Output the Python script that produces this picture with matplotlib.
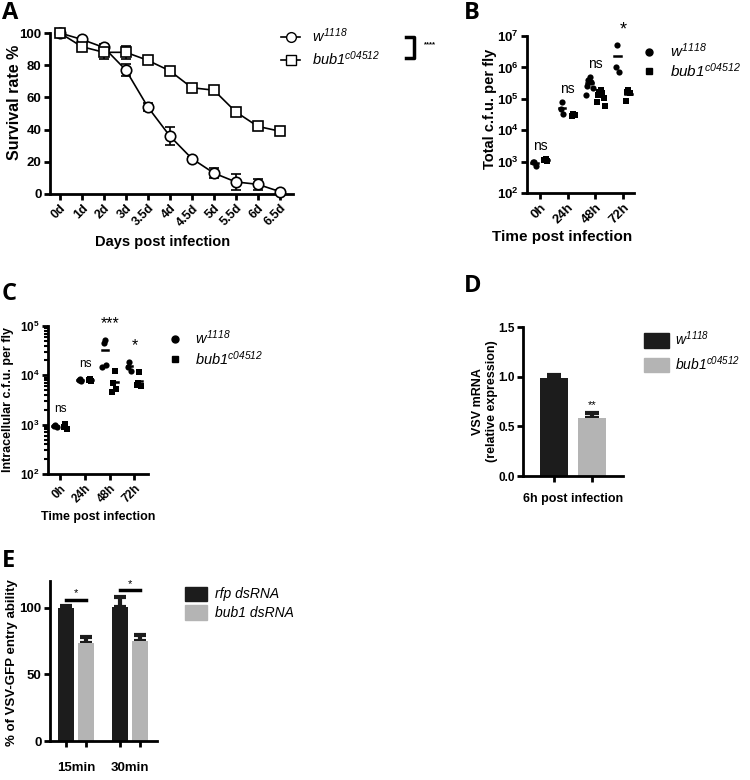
import numpy as np
import matplotlib
matplotlib.use("Agg")
import matplotlib.pyplot as plt
from matplotlib.lines import Line2D
from matplotlib.patches import Patch
from matplotlib.ticker import LogLocator, NullFormatter

plt.rcParams['font.family'] = ['Liberation Sans', 'DejaVu Sans']
plt.rcParams['mathtext.fontset'] = 'custom'
plt.rcParams['mathtext.rm'] = 'Liberation Sans:italic'
plt.rcParams['mathtext.it'] = 'Liberation Sans:italic'
plt.rcParams['mathtext.bf'] = 'Liberation Sans:bold'

# ---- data ----
days = ["0d", "1d", "2d", "3d", "3.5d", "4d", "4.5d", "5d", "5.5d", "6d", "6.5d"]
surv_w = [100, 96, 91, 77, 54, 36, 22, 13, 7.5, 6, 1.5]
surv_w_err = [0, 1, 2, 3.5, 2.5, 5.5, 1, 3, 5, 3.5, 1]
surv_bub = [100, 91.5, 88, 88, 83, 76.5, 66, 64.5, 51, 42, 39]
surv_bub_err = [0, 1.5, 4, 4, 1.5, 1.5, 1.5, 2, 1.5, 1.5, 1.5]

hours = ["0h", "24h", "48h", "72h"]
total_w = [[1.0e3, 0.95e3, 0.75e3], [7.9e4, 4.6e4, 3.3e4],
           [4.8e5, 4.0e5, 3.5e5, 2.6e5, 2.2e5, 1.35e5], [5.3e6, 1.05e6, 7.2e5]]
total_bub = [[1.2e3, 1.1e3, 1.05e3], [3.3e4, 2.9e4, 3.1e4],
             [1.9e5, 1.7e5, 1.5e5, 1.3e5, 1.1e5, 8e4, 6e4], [1.85e5, 1.6e5, 1.5e5, 8.5e4]]
total_sig = ["ns", "ns", "ns", "*"]

intra_w = [[1.0e3, 0.95e3, 0.9e3], [8.5e3, 8.0e3, 7.8e3],
           [5.2e4, 4.6e4, 1.6e4, 1.5e4], [1.87e4, 1.5e4, 1.2e4]]
intra_bub = [[1.05e3, 0.9e3, 0.8e3], [8.3e3, 8.0e3, 7.6e3],
             [1.24e4, 6.9e3, 5.2e3, 4.7e3], [1.15e4, 7.0e3, 6.0e3, 6.5e3]]
intra_sig = ["ns", "ns", "***", "*"]

vsv_mean = [0.99, 0.58]
vsv_err = [0.03, 0.05]
vsv_sig = ["", "**"]

times = ["15min", "30min"]
rfp = [99.5, 100.8]
rfp_err = [1.5, 7.5]
bubds = [73.3, 75.0]
bubds_err = [5.0, 4.5]
entry_sig = ["*", "*"]

lab_w = r"$w^{1118}$"
lab_bub = r"$bub1^{c04512}$"
BLACK = "#1c1c1c"
GREY = "#b4b4b4"

W, H = 750, 780
fig = plt.figure(figsize=(7.5, 7.8), dpi=100)


def px_axes(x0, y0, x1, y1):
    # axes from pixel box (top-left origin)
    return fig.add_axes([x0 / W, 1 - y1 / H, (x1 - x0) / W, (y1 - y0) / H])


def style(ax, size=8.5):
    for s in ["top", "right"]:
        ax.spines[s].set_visible(False)
    for s in ["left", "bottom"]:
        ax.spines[s].set_linewidth(2)
    ax.tick_params(width=2, length=4, labelsize=size, pad=2)
    ax.tick_params(which="minor", width=1.5, length=3)
    for t in ax.get_xticklabels() + ax.get_yticklabels():
        t.set_fontweight("bold")


def panel(x, y, s):
    fig.text(x / W, 1 - y / H, s, fontsize=17, fontweight="bold",
             family="Open Sans", va="top", ha="left")


def log_labels(ax, lo, hi):
    ax.set_yticks([10.0 ** k for k in range(lo, hi + 1)])
    ax.set_yticklabels([r"$\mathbf{10^{%d}}$" % k for k in range(lo, hi + 1)])
    ax.yaxis.set_minor_locator(LogLocator(base=10, subs=np.arange(2, 10)))
    ax.yaxis.set_minor_formatter(NullFormatter())


# ---- A ----
axA = px_axes(50, 33, 293, 194)
x = np.arange(len(days))
axA.errorbar(x, surv_w, yerr=surv_w_err, color="k", marker="o", ms=7.5, mfc="white",
             mew=1.2, lw=1.2, capsize=3.5, elinewidth=1.2, clip_on=False, zorder=3)
axA.errorbar(x, surv_bub, yerr=surv_bub_err, color="k", marker="s", ms=7, mfc="white",
             mew=1.2, lw=1.2, capsize=3.5, elinewidth=1.2, clip_on=False, zorder=3)
axA.set_xlim(-0.45, 10.6)
axA.set_ylim(0, 100)
axA.set_yticks([0, 20, 40, 60, 80, 100])
axA.set_xticks(x)
axA.set_xticklabels(days, rotation=45, ha="right", rotation_mode="anchor")
axA.set_ylabel("Survival rate %", fontsize=11.5, fontweight="bold")
axA.set_xlabel("Days post infection", fontsize=10.5, fontweight="bold")
style(axA, 9.5)
axA.tick_params(axis="x", labelsize=9)
axA.yaxis.set_label_coords(-0.115, 0.57)
axA.xaxis.set_label_coords(0.465, -0.255)
hA = [Line2D([], [], color="k", marker="o", mfc="white", ms=7, lw=1.2),
      Line2D([], [], color="k", marker="s", mfc="white", ms=7, lw=1.2)]
fig.legend(hA, [lab_w, lab_bub], loc="upper left", bbox_to_anchor=(268 / W, 1 - 13 / H),
           frameon=False, fontsize=10.5, handlelength=1.3, labelspacing=0.3, handletextpad=0.8)
fig.add_artist(Line2D([406 / W, 414 / W, 414 / W, 406 / W],
                      [1 - 37 / H, 1 - 37 / H, 1 - 58 / H, 1 - 58 / H], color="k", lw=2.5))
fig.text(424 / W, 1 - 45 / H, "****", fontsize=5.5, fontweight="bold", va="center")
panel(2, 1, "A")


# ---- B / C scatter ----
def jitter(n, step):
    k = np.arange(n)
    return np.where(k % 2 == 0, 1, -1) * ((k + 1) // 2) * step


def scatter_panel(ax, w, b, sig, off, fac, sig_size):
    for i in range(len(w)):
        for vals, dx, mk in [(w[i], -off, "o"), (b[i], off, "s")]:
            n = len(vals)
            xs = i + dx + jitter(n, 0.05)
            ax.scatter(xs, vals, marker=mk, s=20, color="k", zorder=3, clip_on=False, lw=0)
            ax.plot([i + dx - 0.12, i + dx + 0.12], [np.mean(vals)] * 2, color="k", lw=1.8)
        top = max(max(w[i]), max(b[i]))
        ax.text(i, top * fac, sig[i], ha="center", va="bottom",
                fontsize=sig_size + 3 if "*" in sig[i] else sig_size)
    ax.set_yscale("log")
    ax.set_xticks(range(len(hours)))
    ax.set_xticklabels(hours, rotation=45, ha="right", rotation_mode="anchor")


axB = px_axes(527, 36, 634, 193)
scatter_panel(axB, total_w, total_bub, total_sig, 0.2, 1.6, 10)
axB.set_xlim(-0.47, 3.4)
axB.set_ylim(1e2, 1e7)
log_labels(axB, 2, 7)
axB.set_ylabel("Total c.f.u. per fly", fontsize=10.5, fontweight="bold")
axB.set_xlabel("Time post infection", fontsize=11, fontweight="bold")
style(axB, 9.5)
axB.yaxis.set_label_coords(-0.28, 0.535)
axB.xaxis.set_label_coords(0.33, -0.236)
hB = [Line2D([], [], color="k", marker="o", ms=5, lw=0),
      Line2D([], [], color="k", marker="s", ms=5, lw=0)]
fig.legend(hB, [lab_w, lab_bub], loc="upper left", bbox_to_anchor=(626 / W, 1 - 28 / H),
           frameon=False, fontsize=11, handlelength=1.2, labelspacing=0.05, handletextpad=0.8)
panel(464, 1, "B")

axC = px_axes(48, 326, 148, 474)
scatter_panel(axC, intra_w, intra_bub, intra_sig, 0.2, 1.5, 8.5)
axC.set_xlim(-0.5, 3.55)
axC.set_ylim(1e2, 1e5)
log_labels(axC, 2, 5)
axC.set_ylabel("Intracellular c.f.u. per fly", fontsize=9, fontweight="bold")
axC.set_xlabel("Time post infection", fontsize=9, fontweight="bold")
style(axC)
fig.legend(hB, [lab_w, lab_bub], loc="upper left", bbox_to_anchor=(153 / W, 1 - 315 / H),
           frameon=False, fontsize=10.5, handlelength=1.2, labelspacing=0.15, handletextpad=0.8)
panel(2, 282, "C")

# ---- D ----
axD = px_axes(523, 327, 623, 476)
colors = [BLACK, GREY]
axD.bar([0, 1], vsv_mean, width=0.74, color=colors, zorder=2)
for i in range(2):
    axD.errorbar(i, vsv_mean[i], yerr=[[0], [vsv_err[i]]], color=BLACK, capsize=5,
                 capthick=3, elinewidth=3, zorder=1)
    axD.text(i, vsv_mean[i] + vsv_err[i] + 0.03, vsv_sig[i], ha="center", va="bottom", fontsize=8)
axD.set_xlim(-0.82, 1.82)
axD.set_ylim(0, 1.5)
axD.set_yticks([0, 0.5, 1.0, 1.5])
axD.set_yticklabels(["0.0", "0.5", "1.0", "1.5"])
axD.set_xticks([0, 1])
axD.set_xticklabels(["", ""])
axD.set_xlabel("6h post infection", fontsize=9, fontweight="bold", labelpad=6)
axD.set_ylabel("VSV mRNA\n(relative expression)", fontsize=9, fontweight="bold")
style(axD)
axD.yaxis.set_label_coords(-0.25, 0.5)
hD = [Patch(color=BLACK), Patch(color=GREY)]
fig.legend(hD, [lab_w, lab_bub], loc="upper left", bbox_to_anchor=(631 / W, 1 - 317 / H),
           frameon=False, fontsize=10, handlelength=1.8, handleheight=1.2,
           labelspacing=0.45, handletextpad=0.5)
panel(464, 274, "D")

# ---- E ----
axE = px_axes(50, 581, 157, 741)
g = np.arange(len(times))
off = 0.19
axE.bar(g - off, rfp, width=0.3, color=BLACK, zorder=2)
axE.bar(g + off, bubds, width=0.3, color=GREY, zorder=2)
axE.errorbar(g - off, rfp, yerr=[[0, 0], rfp_err], fmt="none", ecolor=BLACK,
             capsize=4, capthick=3, elinewidth=3, zorder=1)
axE.errorbar(g + off, bubds, yerr=[[0, 0], bubds_err], fmt="none", ecolor=BLACK,
             capsize=4, capthick=3, elinewidth=3, zorder=1)
for i in range(len(times)):
    top = max(rfp[i] + rfp_err[i], bubds[i] + bubds_err[i]) + 5
    axE.plot([i - off, i + off], [top, top], color="k", lw=2.5)
    axE.text(i, top + 1, entry_sig[i], ha="center", va="bottom", fontsize=8)
axE.set_xlim(-0.49, 1.51)
axE.set_ylim(0, 120)
axE.set_yticks([0, 50, 100])
axE.set_xticks(np.concatenate([g - off, g + off]))
axE.set_xticklabels([""] * 4)
axE.set_xticks(g, minor=True)
axE.set_xticklabels(times, minor=True)
axE.set_ylabel("% of VSV-GFP entry ability", fontsize=9.5, fontweight="bold")
style(axE, 9.5)
axE.yaxis.set_label_coords(-0.3, 0.49)
axE.tick_params(axis="x", which="minor", length=0, pad=15, labelsize=9.5)
for t in axE.get_xticklabels(minor=True):
    t.set_fontweight("bold")
hE = [Patch(color=BLACK), Patch(color=GREY)]
fig.legend(hE, ["rfp dsRNA", "bub1 dsRNA"], loc="upper left", prop={"style": "italic", "size": 10},
           bbox_to_anchor=(172 / W, 1 - 574 / H), frameon=False,
           handlelength=1.6, handleheight=1.2, labelspacing=0.3, handletextpad=0.6)
panel(2, 549, "E")

fig.savefig("out.png", dpi=100)
